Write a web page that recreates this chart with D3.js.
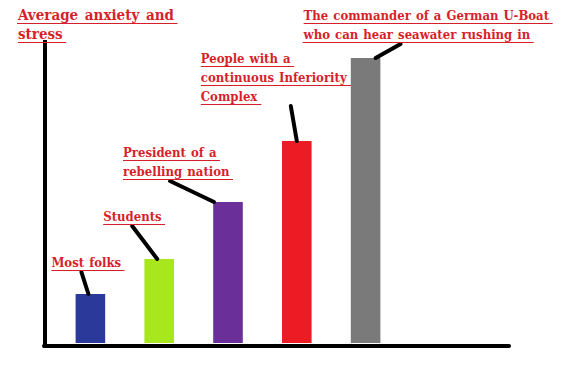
<!DOCTYPE html>
<html>
<head>
<meta charset="utf-8">
<script src="https://cdn.jsdelivr.net/npm/d3@7"></script>
<style>
  html, body { margin: 0; padding: 0; background: #fff; }
  svg { display: block; }
  .lbl { font-family: "DejaVu Serif Condensed", "DejaVu Serif", serif; font-stretch: condensed; font-weight: bold; font-size: 13px; fill: #d71f2b; word-spacing: 1px; }
  .ttl { font-size: 15px; word-spacing: 2px; }
</style>
</head>
<body>
<div id="chart"></div>
<script>
// data
var categories = ["Most folks", "Students", "President of a rebelling nation",
                  "People with a continuous Inferiority Complex",
                  "The commander of a German U-Boat who can hear seawater rushing in"];
var stress = [49, 84, 141, 202, 285];
var colors = ["#2b3a9a", "#a8e61d", "#6b2f9a", "#ed1c24", "#7a7a7a"];
var labelLines = [
    ["Most folks"],
    ["Students"],
    ["President of a", "rebelling nation"],
    ["People with a", "continuous Inferiority", "Complex"],
    ["The commander of a German U-Boat", "who can hear seawater rushing in"]
];
var yTitle = ["Average anxiety and", "stress"];

// annotation layout: leader start dx from bar centre, leader end (dx, dy), label left dx from leader end
var leaders = [
    {sx: -2, ex: -9, ey: -22, lx: -30},
    {sx: -2, ex: -27, ey: -33, lx: -29},
    {sx: -14, ex: -58, ey: -21, lx: -47},
    {sx: 0, ex: -6, ey: -35, lx: -90},
    {sx: 10, ex: 35, ey: -14, lx: -97}
];

var W = 586, H = 392;
var svg = d3.select("#chart").append("svg").attr("width", W).attr("height", H);

var x = d3.scaleBand().domain(categories).range([56, 400]).paddingInner(0.57).paddingOuter(0.285);
var y = d3.scaleLinear().domain([0, 300]).range([343, 43]);

// bars
svg.selectAll("rect.bar").data(categories).enter().append("rect")
    .attr("class", "bar")
    .attr("x", function (d) { return x(d); })
    .attr("width", x.bandwidth())
    .attr("y", function (d, i) { return y(stress[i]); })
    .attr("height", function (d, i) { return y(0) - y(stress[i]); })
    .attr("fill", function (d, i) { return colors[i]; });

// axes, drawn as thick marker lines
svg.append("line").attr("x1", 45).attr("x2", 45).attr("y1", 40).attr("y2", 347)
    .attr("stroke", "#000").attr("stroke-width", 4);
svg.append("line").attr("x1", 44).attr("x2", 509).attr("y1", y(0) + 3).attr("y2", y(0) + 3)
    .attr("stroke", "#000").attr("stroke-width", 4).attr("stroke-linecap", "round");

function underlinedLines(g, lines, lx, baseline, cls) {
    lines.forEach(function (t, k) {
        var txt = g.append("text").attr("class", cls)
            .attr("x", lx).attr("y", baseline + k * 19).text(t);
        var bb = txt.node().getBBox();
        g.append("line")
            .attr("x1", bb.x).attr("x2", bb.x + bb.width + 3)
            .attr("y1", baseline + k * 19 + 3.5).attr("y2", baseline + k * 19 + 3.5)
            .attr("stroke", "#d71f2b").attr("stroke-width", 1);
    });
}

// leaders + labels
categories.forEach(function (c, i) {
    var L = leaders[i];
    var cx = x(c) + x.bandwidth() / 2;
    var top = y(stress[i]);
    var x1 = cx + L.sx, y1 = top, x2 = cx + L.ex, y2 = top + L.ey;
    svg.append("line").attr("x1", x1).attr("y1", y1).attr("x2", x2).attr("y2", y2)
        .attr("stroke", "#000").attr("stroke-width", 4).attr("stroke-linecap", "round");
    var n = labelLines[i].length;
    var base = y2 - 5 - (n - 1) * 19;
    underlinedLines(svg.append("g"), labelLines[i], x2 + L.lx, base, "lbl");
});

// y axis title
underlinedLines(svg.append("g"), yTitle, 18, 20, "lbl ttl");
</script>
</body>
</html>
